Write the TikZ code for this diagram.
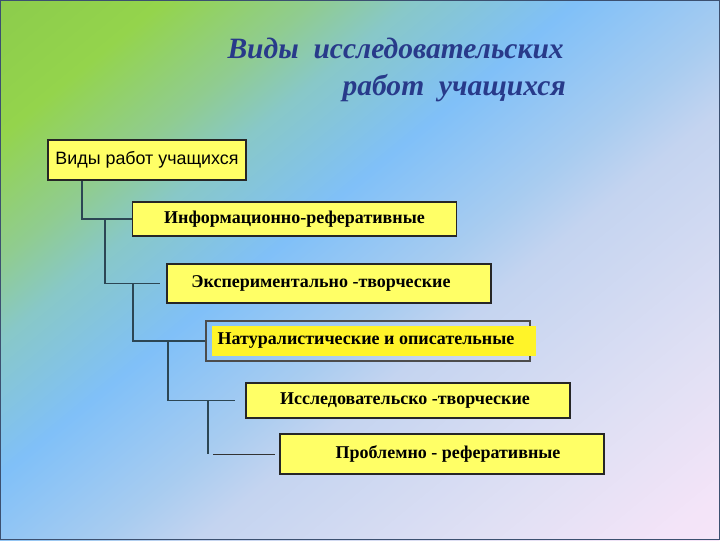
\documentclass[tikz,border=0pt]{standalone}
\usepackage{fontspec}
\setmainfont{Liberation Serif}
\newfontfamily\arialfont{Liberation Sans}
\usetikzlibrary{positioning}

\definecolor{bgdeep}{HTML}{8CCC4C}
\definecolor{bggreen}{HTML}{94D44C}
\definecolor{bgsea}{HTML}{90CC90}
\definecolor{bgteal}{HTML}{88C8C8}
\definecolor{bgblue}{HTML}{80C0F8}
\definecolor{bglight}{HTML}{A8CCF0}
\definecolor{bgpale}{HTML}{C4D4F0}
\definecolor{bglav}{HTML}{E0E0F4}
\definecolor{bgrose}{HTML}{F4E4F8}
\definecolor{bgpink}{HTML}{F8E6F8}
\definecolor{boxyellow}{HTML}{FFFF66}
\definecolor{lineslate}{HTML}{2C4654}
\definecolor{titleblue}{HTML}{283A8A}
\definecolor{frameslate}{HTML}{3C5070}

\pgfdeclarehorizontalshading{slideshade}{100bp}{color(0bp)=(bgdeep); color(25bp)=(bgdeep); color(31bp)=(bggreen); color(36.5bp)=(bgsea); color(40bp)=(bgteal); color(46bp)=(bgblue); color(52.5bp)=(bglight); color(56bp)=(bgpale); color(66bp)=(bglav); color(73bp)=(bgrose); color(78bp)=(bgpink); color(100bp)=(bgpink)}

\begin{document}
\begin{tikzpicture}
    [x=0.025cm, y=-0.025cm,
    title/.style={font=\fontsize{21}{24}\selectfont\bfseries\itshape, text=titleblue, inner sep=0pt, anchor=base east},
    rootbox/.style={draw=black!85, fill=boxyellow, line width=0.9pt, font=\arialfont\fontsize{12.7}{15}\selectfont,
        minimum width=4.95cm, minimum height=1cm, inner sep=0pt},
    kindbox/.style={draw=black!85, fill=boxyellow, line width=0.9pt, font=\fontsize{12.8}{15}\selectfont\bfseries,
        minimum width=8.1cm, minimum height=0.9cm, inner sep=0pt},
    link/.style={draw=lineslate, line width=1pt},
    thinlink/.style={draw=black!80, line width=0.7pt}]

    \useasboundingbox (0,0) rectangle (720,540);

    % Background of the slide
    \begin{scope}
        \clip (0,0) rectangle (720,540);
        \begin{scope}[transform canvas={rotate around={-50.6:(360,270)}}]
            \shade[shading=slideshade] (-77,-190) rectangle (797,730);
        \end{scope}
    \end{scope}
    \draw[frameslate, line width=0.6pt] (0.5,0.5) rectangle (719.5,539.5);

    % Heading
    \node[title] (head1) at (564,58) {Виды\ \ исследовательских};
    \node[title] (head2) at (566,95) {работ\ \ учащихся};

    % Boxes
    \node[rootbox] (root) at (147,160) {Виды работ учащихся};
    \node[kindbox, minimum height=0.85cm] (info) at (294.5,219) {Информационно-реферативные};
    \node[kindbox, minimum height=0.975cm] (exper) at (329,283.5) {Экспериментально -творческие\hspace*{0.4cm}};
    \node[kindbox, fill=none, draw=black!70, minimum height=1cm] (naturframe) at (368,341) {};
    \node[kindbox, draw=none, fill=yellow!60!boxyellow, minimum height=0.75cm] (natur) at (374,341) {Натуралистические и описательные\hspace*{0.4cm}};
    \node[kindbox, minimum height=0.875cm] (issl) at (408,400.5) {Исследовательско -творческие\hspace*{0.15cm}};
    \node[kindbox, minimum height=1cm] (probl) at (442,454) {\hspace*{0.3cm}Проблемно - реферативные};

    % Tree lines
    \draw[link] (root.south -| 82,0) |- (info.west);
    \draw[link] (info.west -| 105,0) |- ([xshift=-0.17cm]exper.west);
    \draw[link] (exper.west -| 133,0) |- (naturframe.west);
    \draw[link] (naturframe.west -| 168,0) |- ([xshift=-0.27cm]issl.west);
    \draw[link] (issl.west -| 208,0) -- (probl.west -| 208,0);
    \draw[thinlink] (probl.west -| 213,0) -- ([xshift=-0.12cm]probl.west);

\end{tikzpicture}
\end{document}
